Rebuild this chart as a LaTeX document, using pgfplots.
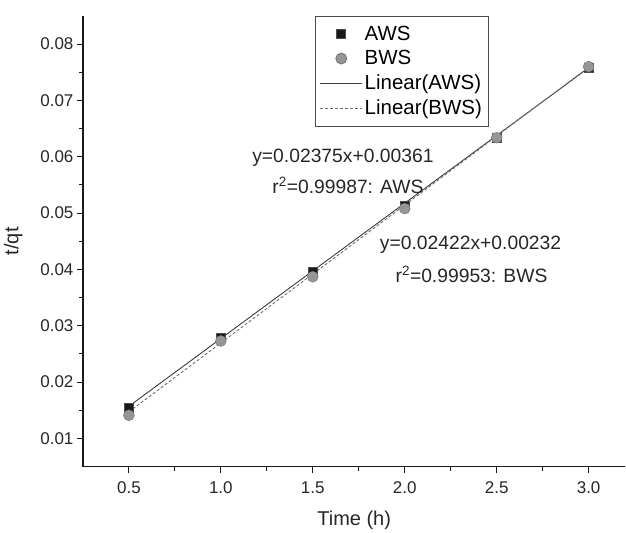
\documentclass[border=0pt]{standalone}
\usepackage{pgfplots}
\pgfplotsset{compat=1.18}
\usepackage{fontspec}
\setmainfont{Liberation Sans}

\definecolor{awsline}{RGB}{60,60,60}
\definecolor{bwsline}{RGB}{110,110,110}
\definecolor{bwsfill}{RGB}{150,150,150}

\pgfplotsset{
    markleg/.style={legend image code/.code={
        \path[draw=none] (0pt,0pt) -- (42pt,0pt);
        \path[##1, draw=none] plot coordinates {(21pt,0pt)};}},
    lineleg/.style={legend image code/.code={\draw[##1] (0pt,0pt) -- (42pt,0pt);}},
}

\begin{document}
\begin{tikzpicture}
\begin{axis}[
    name=ax,
    scale only axis,
    width=543pt,
    height=451pt,
    xmin=0.25, xmax=3.2,
    ymin=0.005, ymax=0.085,
    axis x line*=bottom,
    axis y line*=left,
    axis line style={line width=1.2pt, black!90},
    xtick={0.5,1.0,1.5,2.0,2.5,3.0},
    ytick={0.01,0.02,0.03,0.04,0.05,0.06,0.07,0.08},
    minor x tick num=1,
    minor y tick num=1,
    tick align=outside,
    major tick length=6pt,
    minor tick length=4pt,
    tick style={line width=1pt, black!90},
    x tick label style={/pgf/number format/.cd, fixed, fixed zerofill, precision=1},
    y tick label style={/pgf/number format/.cd, fixed, fixed zerofill, precision=2},
    /pgf/number format/assume math mode=true,
    ticklabel style={font=\fontsize{17}{20}\selectfont, black!85},
    xticklabel shift=6pt,
    scaled y ticks=false,
    xlabel={Time (h)},
    ylabel={t/qt},
    xlabel shift=10pt,
    ylabel shift=11pt,
    label style={font=\fontsize{20}{24}\selectfont, black!85},
    clip=false,
    legend style={
        at={(0.588,1.0)}, anchor=north,
        font=\fontsize{20.5}{24}\selectfont,
        draw=black!70, line width=0.8pt,
        inner xsep=4pt, inner ysep=8pt,
        row sep=4.5pt,
        cells={anchor=west, inner xsep=1pt},
    },
    legend cell align=left,
]
% AWS data
\addplot[only marks, mark=square*, mark size=4.5pt, mark options={fill=black!90, draw=black!70}, markleg]
coordinates {
    (0.5, 0.0155) (1.0, 0.0278) (1.5, 0.0396) (2.0, 0.0514) (2.5, 0.0634) (3.0, 0.0759)
};
% BWS data
\addplot[only marks, mark=*, mark size=5.5pt, mark options={fill=bwsfill, draw=black!55}, markleg]
coordinates {
    (0.5, 0.0141) (1.0, 0.0273) (1.5, 0.0387) (2.0, 0.0508) (2.5, 0.0634) (3.0, 0.0760)
};
% Linear fits
\addplot[awsline, line width=0.9pt, no marks, lineleg]
coordinates {(0.5, 0.0157) (3.0, 0.0758)};
\addplot[bwsline, line width=0.9pt, no marks, dash pattern=on 3pt off 2pt, lineleg]
coordinates {(0.5, 0.0147) (3.0, 0.0759)};
\legend{AWS, BWS, Linear(AWS), Linear(BWS)}

\node[font=\fontsize{19.3}{22}\selectfont, black!85] at (axis cs:1.664,0.0598) {y=0.02375x+0.00361};
\node[font=\fontsize{19.3}{22}\selectfont, black!85] at (axis cs:1.691,0.0549) {r\textsuperscript{2}=0.99987: AWS};
\node[font=\fontsize{19.3}{22}\selectfont, black!85] at (axis cs:2.358,0.0444) {y=0.02422x+0.00232};
\node[font=\fontsize{19.3}{22}\selectfont, black!85] at (axis cs:2.363,0.0391) {r\textsuperscript{2}=0.99953: BWS};
\end{axis}
\path ([xshift=-83pt,yshift=-65pt]ax.south west) rectangle ([yshift=16pt]ax.north east);
\end{tikzpicture}
\end{document}
